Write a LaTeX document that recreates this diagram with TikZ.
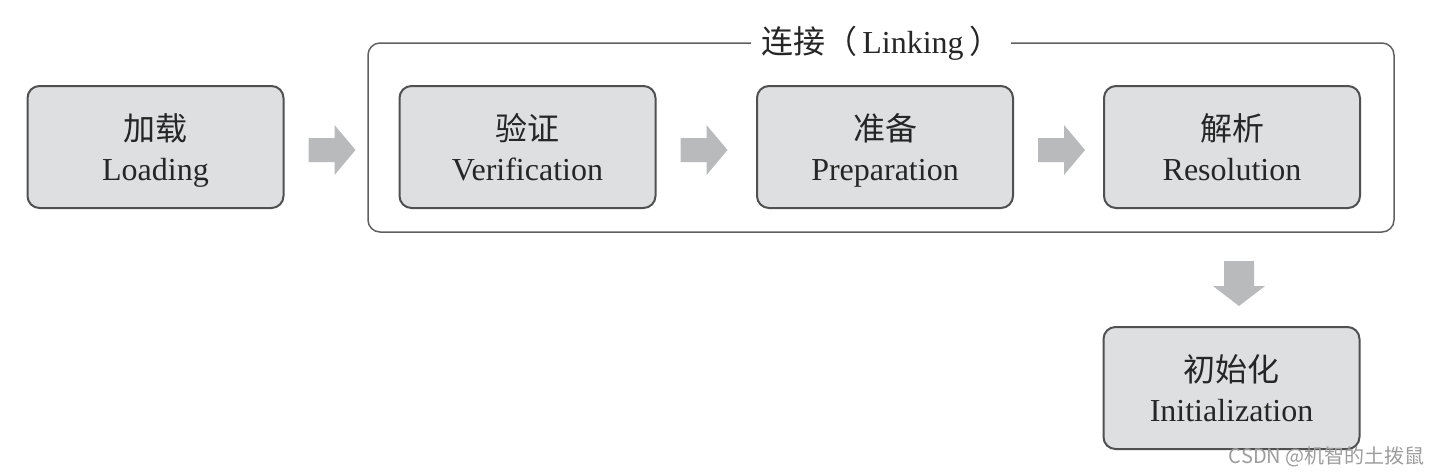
\documentclass[tikz,border=0pt]{standalone}
\usepackage{fontspec}
\setmainfont{Liberation Serif}
\newfontfamily\cjk{Noto Sans CJK SC}
\usetikzlibrary{calc}
\definecolor{boxfill}{HTML}{DDDFE0}
\definecolor{boxline}{HTML}{505050}
\definecolor{arrowgray}{HTML}{B9BABB}
\definecolor{frameline}{HTML}{606060}
\definecolor{wm}{HTML}{9C9C9C}
\begin{document}
\begin{tikzpicture}[x=0.5pt,y=-0.5pt,
  stagebox/.style={draw=boxline, line width=1pt, fill=boxfill, rounded corners=6pt,
    minimum width=128pt, minimum height=61pt, align=center, inner sep=0pt,
    text height=33pt, text depth=0pt,
    font=\fontsize{16}{20}\selectfont, text=black!85},
  rarrow/.pic={\fill[arrowgray] (0,-12) -- (26,-12) -- (26,-25) -- (47,0) -- (26,25) -- (26,12) -- (0,12) -- cycle;},
  darrow/.pic={\fill[arrowgray] (-15,0) -- (15,0) -- (15,25) -- (26,25) -- (0,45) -- (-26,25) -- (-15,25) -- cycle;},
  framebox/.style={draw=frameline, line width=0.75pt, rounded corners=6pt},
  titletext/.style={fill=white, inner xsep=5pt, inner ysep=2pt, font=\fontsize{16}{18}\selectfont, text=black!85},
  watermark/.style={font=\cjk\fontsize{10}{12}\selectfont, text=wm, inner sep=0pt}]
\useasboundingbox (0,0) rectangle (1441,473);

% outer Linking frame
\coordinate (fnw) at (368,43);
\coordinate (fse) at (1394,232);
\draw[framebox] (fnw) rectangle (fse);
\node[titletext] (title) at (881,43) {{\cjk 连接（}\,Linking\,{\cjk ）}};

% stage boxes
\node[stagebox] (load) at (155.5,147) {{\cjk 加载}\\Loading};
\node[stagebox] (ver)  at (527.5,147) {{\cjk 验证}\\Verification};
\node[stagebox] (prep) at (885,147)   {{\cjk 准备}\\Preparation};
\node[stagebox] (res)  at (1232,147)  {{\cjk 解析}\\Resolution};
\node[stagebox] (init) at (1231.5,388) {{\cjk 初始化}\\Initialization};

% block arrows
\pic at ($(load.east)+(24,3)$) {rarrow};
\pic at ($(ver.east)+(24,3)$) {rarrow};
\pic at ($(prep.east)+(24,3)$) {rarrow};
\pic at ($(res.south)+(7,52)$) {darrow};

% watermark
\node[watermark, anchor=base east] (wmark) at (1425,463) {CSDN @机智的土拨鼠};
\end{tikzpicture}
\end{document}
